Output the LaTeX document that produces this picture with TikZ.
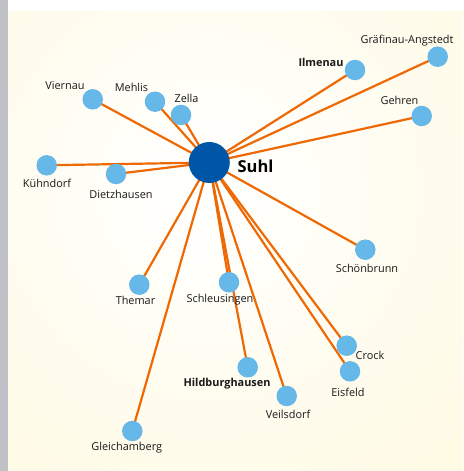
\documentclass[tikz,border=0pt]{standalone}
\usepackage{fontspec}
\setmainfont{Open Sans}
\definecolor{cream}{RGB}{255,249,218}
\definecolor{stripgray}{RGB}{192,193,199}
\definecolor{edgeorange}{RGB}{238,104,4}
\definecolor{townblue}{RGB}{102,184,232}
\definecolor{hubblue}{RGB}{0,86,166}
\pgfdeclarelayer{bg}
\pgfdeclarelayer{edges}
\pgfsetlayers{bg,edges,main}
\begin{document}
\begin{tikzpicture}[x=1pt,y=-1pt,
  town/.style={circle,fill=townblue,minimum size=20.5pt,inner sep=0pt},
  hub/.style={circle,fill=hubblue,minimum size=41pt,inner sep=0pt},
  lbl/.style={font=\fontsize{10.9}{12}\selectfont,inner sep=0pt,text=black!90},
  blbl/.style={font=\fontsize{10.9}{12}\selectfont\bfseries,inner sep=0pt,text=black!90},
  link/.style={draw=edgeorange,line width=2.2pt}]
\useasboundingbox (0,0) rectangle (463,471);
\begin{pgfonlayer}{bg}
\fill[white] (0,0) rectangle (463,471);
\begin{scope}
\clip (8,11) rectangle (463,471);
\shade[inner color=white,outer color=cream] (209,190) circle (500);
\end{scope}
\fill[stripgray] (0,0) rectangle (7.5,471);
\end{pgfonlayer}
% nodes
\node[hub] (suhl) at (209.3,162.5) {};
\node[town] (viernau) at (92.7,99.3) {};
\node[town] (mehlis) at (155,101.7) {};
\node[town] (zella) at (181,115) {};
\node[town] (ilmenau) at (355,70) {};
\node[town] (graefinau) at (437.7,56.7) {};
\node[town] (gehren) at (421.7,116) {};
\node[town] (kuehndorf) at (46.7,165.3) {};
\node[town] (dietzhausen) at (116,174) {};
\node[town] (schoenbrunn) at (365.3,249.7) {};
\node[town] (themar) at (139.3,284.7) {};
\node[town] (schleusingen) at (229,282.3) {};
\node[town] (crock) at (346.7,345.7) {};
\node[town] (eisfeld) at (350,371.3) {};
\node[town] (hildburghausen) at (247.7,367.3) {};
\node[town] (veilsdorf) at (286.7,396) {};
\node[town] (gleichamberg) at (132.3,431) {};
% labels
\node[font=\fontsize{16.5}{18}\selectfont\bfseries,inner sep=0pt] (lsuhl) at (255.5,166.7) {Suhl};
\node[lbl] (lviernau) at (65,86) {Viernau};
\node[lbl] (lmehlis) at (131.5,87) {Mehlis};
\node[lbl] (lzella) at (186.5,98) {Zella};
\node[blbl] (lilmenau) at (321,62) {Ilmenau};
\node[lbl] (lgraefinau) at (407,41) {Gräfinau-Angstedt};
\node[lbl] (lgehren) at (399.5,100.7) {Gehren};
\node[lbl] (lkuehndorf) at (47,183.3) {Kühndorf};
\node[lbl] (ldietzhausen) at (121,194) {Dietzhausen};
\node[lbl] (lschoenbrunn) at (367,268.3) {Schönbrunn};
\node[lbl] (lthemar) at (135.5,300.7) {Themar};
\node[lbl] (lschleusingen) at (220,300) {Schleusingen};
\node[lbl] (lcrock) at (370,355.7) {Crock};
\node[lbl] (leisfeld) at (348,392.3) {Eisfeld};
\node[blbl] (lhildburghausen) at (227,384) {Hildburghausen};
\node[lbl] (lveilsdorf) at (288,414.3) {Veilsdorf};
\node[lbl] (lgleichamberg) at (126.7,447.7) {Gleichamberg};
% edges
\begin{pgfonlayer}{edges}
\foreach \t in {viernau,mehlis,zella,ilmenau,graefinau,gehren,kuehndorf,dietzhausen,schoenbrunn,themar,schleusingen,crock,eisfeld,hildburghausen,veilsdorf,gleichamberg}
  \path[link] (suhl.center) -- (\t.center);
\end{pgfonlayer}
\end{tikzpicture}
\end{document}
